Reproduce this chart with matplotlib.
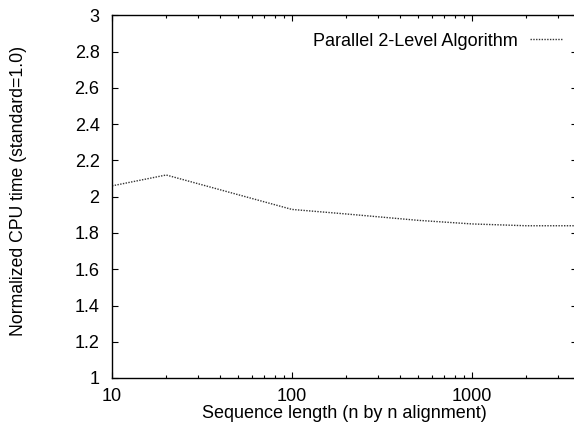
import matplotlib

matplotlib.use("Agg")
import matplotlib.pyplot as plt
from matplotlib.ticker import FixedLocator, LogLocator, NullFormatter

plt.rcParams["font.family"] = ["Liberation Sans", "DejaVu Sans"]

# sequence length (n by n alignment) and normalized CPU time
seq_len = [10, 20, 100, 200, 500, 1000, 2000, 4000]
cpu_time = [2.06, 2.12, 1.93, 1.905, 1.87, 1.85, 1.84, 1.84]
series_label = "Parallel 2-Level Algorithm"
y_ticks = [1, 1.2, 1.4, 1.6, 1.8, 2, 2.2, 2.4, 2.6, 2.8, 3]
y_tick_labels = ["1", "1.2", "1.4", "1.6", "1.8", "2", "2.2", "2.4", "2.6", "2.8", "3"]
x_ticks = [10, 100, 1000]
x_tick_labels = ["10", "100", "1000"]

W, H = 574, 424
fig = plt.figure(figsize=(W / 100, H / 100), dpi=100)
# plot area runs past the right edge of the image, like the cropped original
left, right, top, bottom = 112, 577, 15.5, 378
ax = fig.add_axes([left / W, (H - bottom) / H, (right - left) / W, (bottom - top) / H])
aw, ah = right - left, bottom - top

ax.plot(seq_len, cpu_time, color="#333333", lw=1.0, linestyle=(0, (1, 1)), label=series_label)

ax.set_xscale("log")
ax.set_xlim(10, 3830)
ax.set_ylim(1, 3)
ax.xaxis.set_major_locator(FixedLocator(x_ticks))
ax.set_xticklabels(x_tick_labels)
ax.xaxis.set_minor_locator(LogLocator(base=10, subs=range(2, 10)))
ax.xaxis.set_minor_formatter(NullFormatter())
ax.set_yticks(y_ticks)
ax.set_yticklabels(y_tick_labels)

ax.tick_params(which="both", direction="in", top=True, right=True, labelsize=13, colors="black")
ax.tick_params(which="major", length=4, width=0.8)
ax.tick_params(which="minor", length=2.5, width=0.8)
ax.tick_params(axis="y", pad=9)
ax.tick_params(axis="x", pad=7.5)
for side in ax.spines.values():
    side.set_linewidth(1.0)

ax.set_xlabel("Sequence length (n by n alignment)", fontsize=13)
ax.xaxis.set_label_coords(0.5, (bottom - 405) / ah)
ax.set_ylabel("Normalized CPU time (standard=1.0)", fontsize=12.7)
ax.yaxis.set_label_coords((27.4 - left) / aw, (bottom - 190.5) / ah)

ax.legend(loc="upper right", bbox_to_anchor=((569 - left) / aw, 1 - 10 / ah),
          frameon=False, fontsize=13, markerfirst=False, handlelength=1.75,
          handletextpad=0.67, borderaxespad=0)

fig.savefig("out.png", dpi=100)
